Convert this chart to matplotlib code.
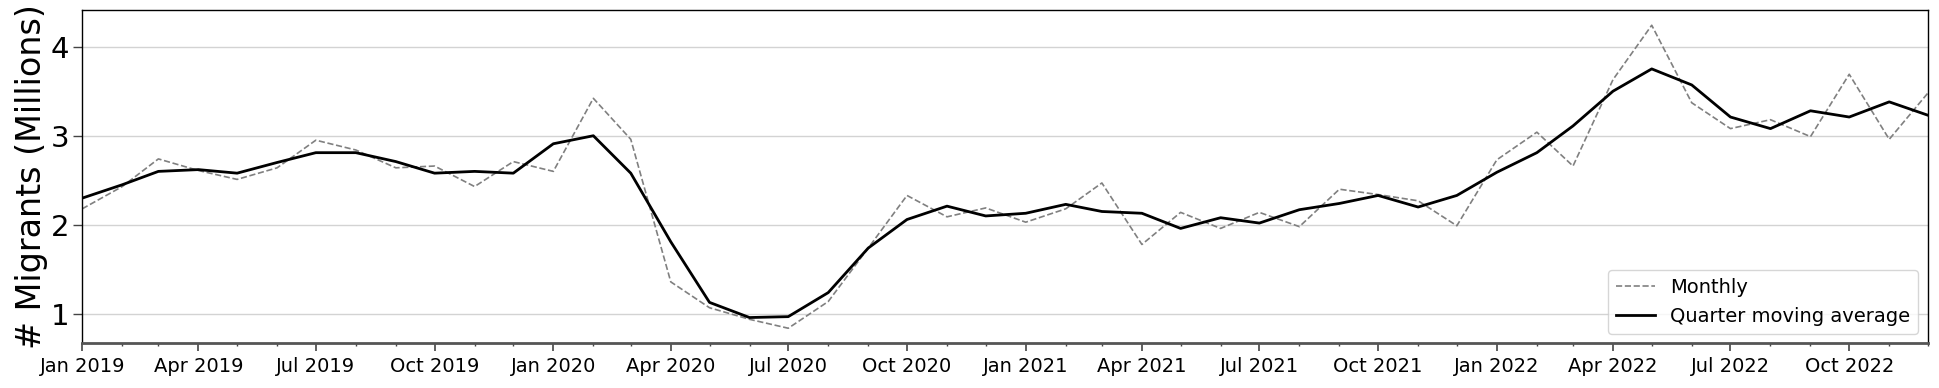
import pandas as pd
import matplotlib
matplotlib.use("Agg")
import matplotlib.pyplot as plt
import matplotlib.dates as mdates

# Monthly migrant counts (millions), Jan 2019 - Dec 2022
months = pd.date_range("2019-01-01", periods=48, freq="MS")

monthly = [
    2.18, 2.43, 2.74, 2.61, 2.51, 2.64, 2.95, 2.84, 2.64, 2.66, 2.43, 2.71,  # 2019
    2.60, 3.42, 2.96, 1.36, 1.07, 0.94, 0.84, 1.14, 1.74, 2.33, 2.09, 2.19,  # 2020
    2.03, 2.18, 2.47, 1.78, 2.14, 1.96, 2.14, 1.98, 2.40, 2.34, 2.27, 1.99,  # 2021
    2.73, 3.04, 2.66, 3.63, 4.24, 3.37, 3.08, 3.18, 2.99, 3.69, 2.96, 3.48,  # 2022
]

quarter_avg = [
    2.30, 2.45, 2.60, 2.62, 2.58, 2.70, 2.81, 2.81, 2.71, 2.58, 2.60, 2.58,
    2.91, 3.00, 2.58, 1.81, 1.13, 0.96, 0.97, 1.24, 1.74, 2.06, 2.21, 2.10,
    2.13, 2.23, 2.15, 2.13, 1.96, 2.08, 2.02, 2.17, 2.24, 2.33, 2.20, 2.33,
    2.59, 2.81, 3.11, 3.50, 3.75, 3.57, 3.21, 3.08, 3.28, 3.21, 3.38, 3.23,
]

fig = plt.figure(figsize=(19.39, 3.88), dpi=100)
ax = fig.add_axes([0.0424, 0.115, 0.9519, 0.859])

ax.plot(months, monthly, color="gray", linestyle="--", linewidth=1.2, label="Monthly")
ax.plot(months, quarter_avg, color="black", linewidth=2, label="Quarter moving average")

ax.set_xlim(months[0], months[-1])
ax.xaxis.set_major_locator(mdates.MonthLocator(bymonth=[1, 4, 7, 10]))
ax.xaxis.set_major_formatter(mdates.DateFormatter("%b %Y"))
ax.xaxis.set_minor_locator(mdates.MonthLocator())

ax.set_yticks([1, 2, 3, 4])
ax.grid(axis="y", color="#d3d3d3", linewidth=1)
ax.set_axisbelow(True)

ax.tick_params(axis="x", which="major", labelsize=14, length=6, width=1.2, color="#444444")
ax.tick_params(axis="x", which="minor", length=2.5, width=1, color="#444444")
ax.tick_params(axis="y", labelsize=21, length=6.5, width=1, color="#444444", pad=3)

ax.spines["bottom"].set_color("#555555")
ax.spines["bottom"].set_linewidth(2)
for side in ["top", "right", "left"]:
    ax.spines[side].set_color("black")
    ax.spines[side].set_linewidth(1)

ax.set_ylabel("# Migrants (Millions)", fontsize=24, labelpad=2)
ax.legend(loc="lower right", fontsize=14)

fig.savefig("out.png", dpi=100)
